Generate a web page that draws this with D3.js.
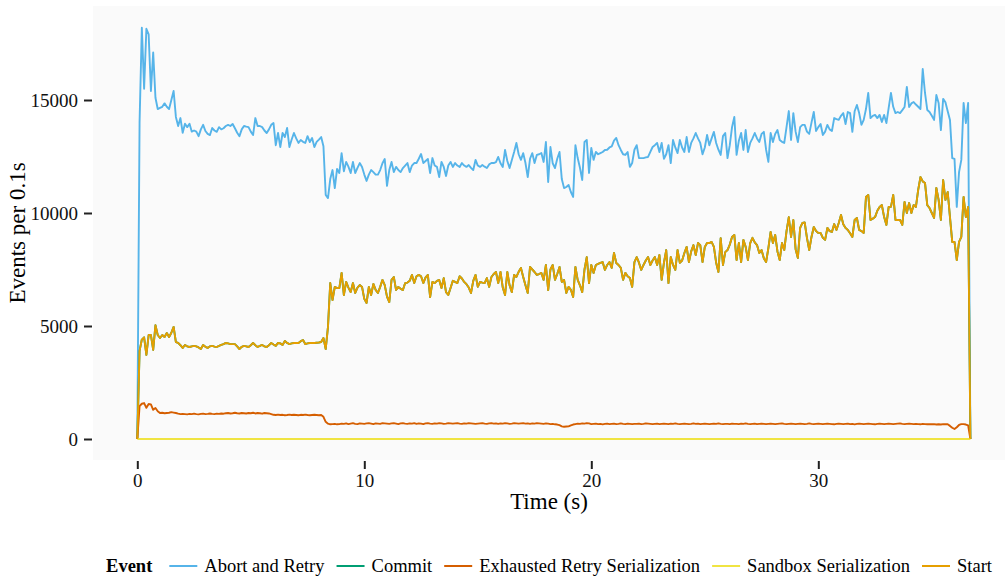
<!DOCTYPE html>
<head>
    <title>Events per 0.1s</title>
    <script src="https://d3js.org/d3.v7.min.js"></script>
</head>
<style>
body {
  margin: 0;
  background: #fff;
  font-family: "Liberation Serif", "DejaVu Serif", serif;
}
</style>
<body>
    <svg></svg>
</body>

<script>

    // Events counted in 0.1 s buckets, t = 0.0 .. 36.7 s
    var step = 0.1;

    var abortRetry = [
        0, 14000, 18200, 15500, 18150, 17900, 15400, 17100, 15100, 14600,
        14650, 14700, 14850, 14700, 14600, 15000, 15400, 14250, 13850, 14200,
        13550, 13950, 13800, 13950, 13600, 13650, 13600, 13400, 13700, 13900,
        13630, 13500, 13450, 13760, 13650, 13590, 13800, 13700, 13750, 13850,
        13900, 13850, 13940, 13750, 13550, 13400, 13700, 13850, 13820, 13800,
        13600, 13450, 14200, 13850, 13850, 13800, 13650, 13540, 13700, 13900,
        13980, 13000, 13540, 12920, 13540, 13360, 13760, 12920, 13250, 13540,
        13300, 13100, 13230, 13150, 13100, 13400, 13140, 13320, 12920, 13150,
        13250, 13360, 12950, 10800, 10660, 11500, 11900, 11100, 11950, 11770,
        12650, 11850, 12260, 12050, 11770, 12260, 11770, 12000, 12210, 12040,
        11700, 11420, 11700, 11900, 11810, 11700, 11700, 11900, 12200, 12390,
        11200, 11900, 12260, 11810, 12040, 11900, 11810, 11990, 12100, 12210,
        11810, 12100, 12210, 12210, 12400, 12610, 12210, 12300, 12390, 11770,
        12430, 12100, 12040, 11590, 12260, 12040, 11640, 12100, 12260, 12040,
        12210, 12100, 12040, 12210, 12100, 12040, 12120, 12000, 11900, 12350,
        12100, 12040, 12120, 12050, 11990, 12150, 12210, 12210, 12250, 12480,
        12200, 12040, 12790, 12300, 11990, 12350, 12700, 13100, 12600, 12350,
        12650, 12210, 11590, 12400, 12650, 12210, 12570, 12600, 12650, 12260,
        13140, 11370, 12920, 12200, 11990, 12400, 12700, 11500, 11100, 11150,
        11240, 10930, 10710, 13000, 12430, 12000, 11460, 13140, 13230, 11770,
        12880, 12350, 12700, 12600, 12650, 12700, 12790, 12800, 12900, 12950,
        13200, 13320, 13000, 12790, 12600, 12570, 12700, 12040, 12210, 12800,
        13000, 12430, 12430, 12430, 12460, 12480, 12700, 12920, 13000, 13100,
        12700, 13100, 12400, 12600, 13000, 12210, 13230, 12900, 12650, 13230,
        12900, 12700, 13360, 12700, 13100, 13300, 13540, 13300, 13100, 12600,
        12900, 13450, 13000, 13300, 13590, 13100, 12800, 12570, 13400, 13540,
        12430, 13000, 13800, 14250, 12570, 13200, 13540, 12790, 13670, 12700,
        13100, 13300, 13540, 13300, 13140, 13500, 13590, 12800, 12260, 13540,
        13140, 13500, 13670, 13230, 13150, 13100, 13800, 14510, 13230, 14420,
        13600, 13140, 13800, 13900, 13900, 13600, 13500, 14000, 14470, 13630,
        13800, 13940, 13450, 13600, 13900, 13700, 13630, 14200, 14150, 14120,
        14300, 14420, 13940, 14470, 14420, 13590, 14500, 14780, 14420, 13900,
        14120, 14600, 15310, 14200, 14300, 14340, 14200, 14340, 14030, 14340,
        13980, 14650, 15310, 14700, 14420, 14470, 14420, 14550, 14690, 15580,
        14690, 14850, 14910, 14800, 14700, 14600, 16370, 15310, 14560, 14470,
        14300, 14120, 15220, 14870, 13670, 15050, 14900, 14500, 14120, 12430,
        12390, 10270, 11810, 12350, 14870, 13980, 14870, 0
    ];

    var commit = [
        0, 3900, 4400, 4500, 3720, 4600, 4600, 3940, 5040, 4600,
        4470, 4600, 4510, 4690, 4510, 4700, 4960, 4290, 4250, 4150,
        4030, 4160, 4100, 4070, 4100, 4120, 4100, 4050, 3980, 4160,
        4080, 4030, 4100, 4120, 4090, 4070, 4120, 4160, 4200, 4250,
        4230, 4200, 4200, 4200, 4100, 3980, 4080, 4120, 4100, 4070,
        4150, 4250, 4150, 4070, 4120, 4160, 4100, 4070, 4150, 4250,
        4180, 4120, 4250, 4230, 4160, 4340, 4250, 4200, 4230, 4250,
        4250, 4250, 4330, 4380, 4200, 4230, 4250, 4250, 4250, 4260,
        4270, 4290, 4470, 3980, 4960, 6900, 6150, 6730, 6680, 6680,
        7350, 6370, 6950, 6700, 6500, 6900, 6460, 6700, 6810, 6730,
        6200, 6020, 6730, 6370, 6860, 6600, 6460, 6730, 7040, 6810,
        6300, 6060, 7040, 7170, 6590, 6730, 6650, 6590, 6900, 6920,
        7000, 7260, 6900, 7200, 7260, 7200, 6900, 7150, 7260, 6280,
        6950, 6900, 7000, 7040, 6680, 7120, 6500, 6370, 6680, 7000,
        6950, 6900, 7200, 7100, 6950, 6850, 6700, 6460, 7000, 7260,
        6730, 6950, 6920, 6900, 7120, 6730, 7170, 7300, 7390, 6900,
        7390, 6700, 6370, 7390, 6800, 6500, 7260, 7170, 7400, 7570,
        7170, 6800, 6460, 7610, 7500, 7390, 7260, 7300, 7350, 7040,
        7700, 6590, 7500, 7700, 7040, 7300, 7610, 6950, 7040, 6460,
        6730, 6600, 6280, 7610, 7040, 6800, 6500, 7500, 8050, 6900,
        7700, 7350, 7700, 7750, 7790, 7830, 7480, 7700, 7830, 7570,
        8230, 7790, 7700, 7570, 7040, 7350, 7200, 7120, 6730, 7830,
        8050, 7800, 7480, 7700, 7900, 8050, 7700, 7900, 8050, 7700,
        8140, 7040, 7800, 8360, 6900, 8050, 7700, 7480, 8360, 7800,
        7900, 8230, 8500, 7830, 8300, 8580, 8140, 8670, 8580, 7830,
        8500, 8670, 8670, 8720, 8500, 7800, 7390, 8890, 7700, 8270,
        8360, 8600, 8940, 9030, 7920, 8670, 7830, 8810, 8500, 7920,
        8670, 8900, 8700, 8580, 8230, 8360, 8000, 7830, 8450, 9160,
        8670, 9030, 8300, 7920, 8670, 8360, 9200, 9820, 8940, 9690,
        8400, 8010, 9340, 9560, 9580, 8900, 8360, 8940, 9380, 9200,
        9120, 9120, 8900, 8810, 9340, 9200, 9160, 9510, 9250, 9560,
        9910, 9500, 9340, 9250, 9100, 8940, 9690, 9780, 9250, 9200,
        9120, 10710, 10800, 9690, 9750, 9820, 10100, 10270, 10350, 9820,
        9470, 10270, 10270, 10800, 9690, 9690, 9690, 9470, 10490, 10000,
        10440, 10000, 10350, 10270, 11020, 11590, 11400, 11330, 10350, 10220,
        10000, 9780, 11110, 10580, 9690, 11460, 10580, 10930, 9820, 8720,
        8720, 7920, 8720, 8940, 10710, 9820, 10270, 0
    ];

    var exhaustedRetry = [
        0, 1450, 1560, 1590, 1380, 1550, 1530, 1290, 1370, 1230,
        1150, 1160, 1140, 1150, 1160, 1190, 1170, 1150, 1120, 1100,
        1110, 1100, 1090, 1110, 1100, 1120, 1100, 1090, 1110, 1120,
        1100, 1110, 1130, 1110, 1100, 1120, 1110, 1130, 1120, 1140,
        1150, 1130, 1140, 1160, 1140, 1130, 1150, 1140, 1130, 1150,
        1140, 1160, 1130, 1150, 1140, 1120, 1150, 1140, 1130, 1100,
        1070, 1060, 1080, 1060, 1070, 1050, 1060, 1080, 1060, 1070,
        1060, 1050, 1070, 1060, 1080, 1060, 1050, 1060, 1070, 1060,
        1050, 1060, 980, 760, 680, 650, 660, 670, 650, 660,
        680, 670, 690, 660, 680, 700, 670, 660, 690, 680,
        670, 690, 700, 680, 660, 690, 680, 670, 700, 690,
        680, 670, 690, 700, 680, 660, 690, 700, 680, 670,
        690, 680, 700, 670, 690, 680, 660, 690, 700, 680,
        670, 690, 680, 700, 690, 670, 680, 700, 690, 680,
        690, 700, 680, 670, 690, 680, 700, 690, 680, 670,
        680, 690, 700, 680, 670, 690, 700, 680, 690, 670,
        690, 680, 700, 690, 670, 680, 700, 690, 680, 690,
        700, 680, 690, 670, 690, 680, 700, 690, 680, 670,
        690, 680, 660, 670, 650, 640, 610, 560, 540, 550,
        560, 600, 640, 660, 680, 670, 690, 680, 700, 690,
        660, 670, 680, 660, 670, 650, 670, 680, 660, 670,
        680, 660, 670, 690, 670, 660, 680, 670, 660, 670,
        670, 680, 660, 670, 690, 680, 670, 660, 670, 680,
        660, 670, 680, 670, 660, 680, 670, 690, 670, 660,
        670, 680, 670, 660, 670, 690, 670, 680, 660, 670,
        680, 670, 660, 670, 680, 670, 690, 670, 660, 670,
        670, 660, 680, 670, 670, 660, 680, 670, 690, 670,
        660, 670, 680, 660, 670, 680, 670, 660, 670, 680,
        670, 660, 670, 680, 690, 670, 660, 670, 680, 670,
        660, 670, 680, 670, 660, 670, 690, 670, 660, 670,
        680, 670, 660, 670, 680, 670, 660, 650, 670, 680,
        670, 660, 670, 680, 660, 670, 650, 670, 680, 670,
        660, 670, 680, 670, 660, 650, 670, 680, 670, 660,
        670, 680, 670, 660, 670, 680, 690, 670, 660, 670,
        680, 670, 660, 670, 660, 650, 670, 660, 650, 660,
        650, 660, 640, 650, 640, 660, 650, 650, 580, 500,
        440, 520, 620, 660, 660, 640, 600, 0
    ];

    var sandbox = [
        0, 0, 0, 0, 0, 0, 0, 0, 0, 0,  0, 0, 0, 0, 0, 0, 0, 0, 0, 0,
        0, 0, 0, 0, 0, 0, 0, 0, 0, 0,  0, 0, 0, 0, 0, 0, 0, 0, 0, 0,
        0, 0, 0, 0, 0, 0, 0, 0, 0, 0,  0, 0, 0, 0, 0, 0, 0, 0, 0, 0,
        0, 0, 0, 0, 0, 0, 0, 0, 0, 0,  0, 0, 0, 0, 0, 0, 0, 0, 0, 0,
        0, 0, 0, 0, 0, 0, 0, 0, 0, 0,  0, 0, 0, 0, 0, 0, 0, 0, 0, 0,
        0, 0, 0, 0, 0, 0, 0, 0, 0, 0,  0, 0, 0, 0, 0, 0, 0, 0, 0, 0,
        0, 0, 0, 0, 0, 0, 0, 0, 0, 0,  0, 0, 0, 0, 0, 0, 0, 0, 0, 0,
        0, 0, 0, 0, 0, 0, 0, 0, 0, 0,  0, 0, 0, 0, 0, 0, 0, 0, 0, 0,
        0, 0, 0, 0, 0, 0, 0, 0, 0, 0,  0, 0, 0, 0, 0, 0, 0, 0, 0, 0,
        0, 0, 0, 0, 0, 0, 0, 0, 0, 0,  0, 0, 0, 0, 0, 0, 0, 0, 0, 0,
        0, 0, 0, 0, 0, 0, 0, 0, 0, 0,  0, 0, 0, 0, 0, 0, 0, 0, 0, 0,
        0, 0, 0, 0, 0, 0, 0, 0, 0, 0,  0, 0, 0, 0, 0, 0, 0, 0, 0, 0,
        0, 0, 0, 0, 0, 0, 0, 0, 0, 0,  0, 0, 0, 0, 0, 0, 0, 0, 0, 0,
        0, 0, 0, 0, 0, 0, 0, 0, 0, 0,  0, 0, 0, 0, 0, 0, 0, 0, 0, 0,
        0, 0, 0, 0, 0, 0, 0, 0, 0, 0,  0, 0, 0, 0, 0, 0, 0, 0, 0, 0,
        0, 0, 0, 0, 0, 0, 0, 0, 0, 0,  0, 0, 0, 0, 0, 0, 0, 0, 0, 0,
        0, 0, 0, 0, 0, 0, 0, 0, 0, 0,  0, 0, 0, 0, 0, 0, 0, 0, 0, 0,
        0, 0, 0, 0, 0, 0, 0, 0, 0, 0,  0, 0, 0, 0, 0, 0, 0, 0, 0, 0,
        0, 0, 0, 0, 0, 0, 0, 0
    ];

    var start = [
        0, 3900, 4400, 4500, 3720, 4600, 4600, 3940, 5040, 4600,
        4470, 4600, 4510, 4690, 4510, 4700, 4960, 4290, 4250, 4150,
        4030, 4160, 4100, 4070, 4100, 4120, 4100, 4050, 3980, 4160,
        4080, 4030, 4100, 4120, 4090, 4070, 4120, 4160, 4200, 4250,
        4230, 4200, 4200, 4200, 4100, 3980, 4080, 4120, 4100, 4070,
        4150, 4250, 4150, 4070, 4120, 4160, 4100, 4070, 4150, 4250,
        4180, 4120, 4250, 4230, 4160, 4340, 4250, 4200, 4230, 4250,
        4250, 4250, 4330, 4380, 4200, 4230, 4250, 4250, 4250, 4260,
        4270, 4290, 4470, 3980, 4960, 6900, 6150, 6730, 6680, 6680,
        7350, 6370, 6950, 6700, 6500, 6900, 6460, 6700, 6810, 6730,
        6200, 6020, 6730, 6370, 6860, 6600, 6460, 6730, 7040, 6810,
        6300, 6060, 7040, 7170, 6590, 6730, 6650, 6590, 6900, 6920,
        7000, 7260, 6900, 7200, 7260, 7200, 6900, 7150, 7260, 6280,
        6950, 6900, 7000, 7040, 6680, 7120, 6500, 6370, 6680, 7000,
        6950, 6900, 7200, 7100, 6950, 6850, 6700, 6460, 7000, 7260,
        6730, 6950, 6920, 6900, 7120, 6730, 7170, 7300, 7390, 6900,
        7390, 6700, 6370, 7390, 6800, 6500, 7260, 7170, 7400, 7570,
        7170, 6800, 6460, 7610, 7500, 7390, 7260, 7300, 7350, 7040,
        7700, 6590, 7500, 7700, 7040, 7300, 7610, 6950, 7040, 6460,
        6730, 6600, 6280, 7610, 7040, 6800, 6500, 7500, 8050, 6900,
        7700, 7350, 7700, 7750, 7790, 7830, 7480, 7700, 7830, 7570,
        8230, 7790, 7700, 7570, 7040, 7350, 7200, 7120, 6730, 7830,
        8050, 7800, 7480, 7700, 7900, 8050, 7700, 7900, 8050, 7700,
        8140, 7040, 7800, 8360, 6900, 8050, 7700, 7480, 8360, 7800,
        7900, 8230, 8500, 7830, 8300, 8580, 8140, 8670, 8580, 7830,
        8500, 8670, 8670, 8720, 8500, 7800, 7390, 8890, 7700, 8270,
        8360, 8600, 8940, 9030, 7920, 8670, 7830, 8810, 8500, 7920,
        8670, 8900, 8700, 8580, 8230, 8360, 8000, 7830, 8450, 9160,
        8670, 9030, 8300, 7920, 8670, 8360, 9200, 9820, 8940, 9690,
        8400, 8010, 9340, 9560, 9580, 8900, 8360, 8940, 9380, 9200,
        9120, 9120, 8900, 8810, 9340, 9200, 9160, 9510, 9250, 9560,
        9910, 9500, 9340, 9250, 9100, 8940, 9690, 9780, 9250, 9200,
        9120, 10710, 10800, 9690, 9750, 9820, 10100, 10270, 10350, 9820,
        9470, 10270, 10270, 10800, 9690, 9690, 9690, 9470, 10490, 10000,
        10440, 10000, 10350, 10270, 11020, 11590, 11400, 11330, 10350, 10220,
        10000, 9780, 11110, 10580, 9690, 11460, 10580, 10930, 9820, 8720,
        8720, 7920, 8720, 8940, 10710, 9820, 10270, 0
    ];

    var eventNames = ["Abort and Retry", "Commit", "Exhausted Retry Serialization", "Sandbox Serialization", "Start"];
    var eventValues = [abortRetry, commit, exhaustedRetry, sandbox, start];
    var eventColors = ["#56B4E9", "#009E73", "#D55E00", "#F0E442", "#E69F00"];
    var xTicks = [0, 10, 20, 30];
    var yTicks = [0, 5000, 10000, 15000];

    // Variables
    var width = 1005;
    var height = 577;
    var panel = {left: 93, right: 1005, top: 6, bottom: 460};

    var svg = d3.select('svg')
        .attr('width', width)
        .attr('height', height);

    var x = d3.scaleLinear()
        .domain([0, 36.7])
        .range([137.3, 970.4]);

    var y = d3.scaleLinear()
        .domain([0, 15000])
        .range([439, 100]);

    // grey panel behind the lines
    svg.append('rect')
        .attr('x', panel.left)
        .attr('y', panel.top)
        .attr('width', panel.right - panel.left)
        .attr('height', panel.bottom - panel.top)
        .style('fill', '#fafafa');

    // Lines, drawn in legend order so Start sits on top of Commit
    var line = d3.line()
        .x(function (d, i) { return x(i * step); })
        .y(function (d) { return y(d); });

    svg.selectAll('.series')
        .data(eventValues)
        .enter().append('path')
        .attr('class', 'series')
        .attr('d', line)
        .style('fill', 'none')
        .style('stroke', function (d, i) { return eventColors[i]; })
        .style('stroke-width', 1.9)
        .style('stroke-linejoin', 'round');

    // Axes: ticks sit outside the panel, no domain line
    var xAxis = svg.append('g')
        .attr('transform', 'translate(0,' + (panel.bottom + 1) + ')')
        .call(d3.axisBottom(x).tickValues(xTicks).tickSize(8).tickPadding(5));

    var yAxis = svg.append('g')
        .attr('transform', 'translate(' + (panel.left - 1) + ',0)')
        .call(d3.axisLeft(y).tickValues(yTicks).tickFormat(d3.format('d')).tickSize(8).tickPadding(6));

    [xAxis, yAxis].forEach(function (a) {
        a.select('.domain').remove();
        a.selectAll('line').style('stroke', '#222').style('stroke-width', 2);
        a.selectAll('text')
            .style('font-family', '"Liberation Serif", serif')
            .style('font-size', '19px')
            .style('fill', '#111');
    });

    // Axis titles
    svg.append('text')
        .attr('x', (panel.left + panel.right) / 2)
        .attr('y', 509)
        .attr('text-anchor', 'middle')
        .style('font-size', '23px')
        .text('Time (s)');

    svg.append('text')
        .attr('transform', 'translate(25,' + ((panel.top + panel.bottom) / 2) + ')rotate(-90)')
        .attr('text-anchor', 'middle')
        .style('font-size', '23px')
        .text('Events per 0.1s');

    // Legend along the bottom, centred under the panel
    var legend = svg.append('g');
    var legendY = 566;
    var title = legend.append('text')
        .attr('y', legendY + 6)
        .style('font-size', '18.5px')
        .style('font-weight', 'bold')
        .text('Event');

    var cursor = title.node().getComputedTextLength() + 17;
    eventNames.forEach(function (name, i) {
        legend.append('line')
            .attr('x1', cursor).attr('x2', cursor + 28)
            .attr('y1', legendY).attr('y2', legendY)
            .style('stroke', eventColors[i])
            .style('stroke-width', 2);
        var t = legend.append('text')
            .attr('x', cursor + 35)
            .attr('y', legendY + 6)
            .style('font-size', '18.5px')
            .text(name);
        cursor += 35 + t.node().getComputedTextLength() + 12;
    });
    var legendWidth = cursor - 12;
    legend.attr('transform', 'translate(' + ((panel.left + panel.right) / 2 - legendWidth / 2) + ',0)');

</script>
